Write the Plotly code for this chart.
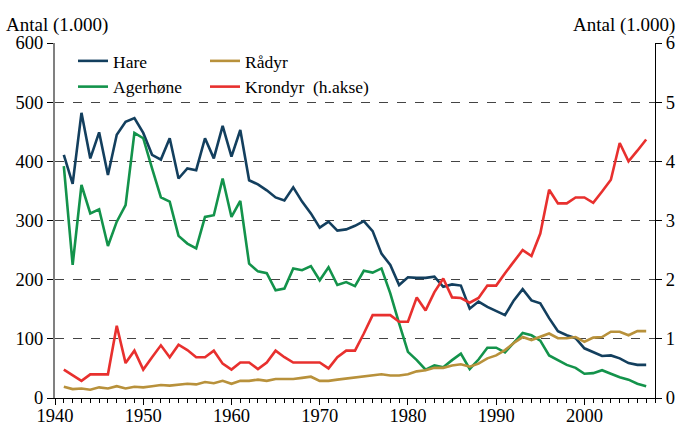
import plotly.graph_objects as go

years = list(range(1941, 2008))

hare = [411, 362, 482, 405, 449, 377, 445, 467, 473, 448,
        411, 403, 439, 371, 388, 385, 439, 405, 460, 408,
        453, 368, 361, 351, 339, 334, 356, 332, 312, 288,
        298, 283, 285, 291, 299, 282, 244, 225, 191, 204,
        203, 203, 205, 188, 192, 190, 151, 163, 154, 147,
        140, 165, 184, 165, 160, 135, 113, 106, 101, 84,
        77, 71, 72, 67, 59, 56, 56]

agerhone = [392, 225, 360, 312, 319, 257, 298, 326, 448, 439,
            388, 339, 332, 274, 261, 253, 306, 309, 371, 306,
            333, 227, 214, 211, 182, 185, 219, 216, 223, 199,
            221, 191, 196, 189, 215, 212, 219, 177, 126, 78,
            64, 48, 55, 52, 64, 75, 49, 65, 85, 85,
            77, 93, 110, 106, 97, 72, 64, 56, 51, 41,
            42, 47, 41, 35, 31, 24, 20]

radyr = [19, 15, 16, 14, 18, 16, 20, 16, 19, 18,
         20, 22, 21, 23, 24, 23, 27, 25, 29, 24,
         29, 29, 31, 29, 32, 32, 32, 34, 36, 29,
         29, 31, 33, 34, 37, 38, 40, 38, 38, 40,
         45, 47, 51, 51, 55, 57, 53, 58, 67, 72,
         81, 93, 103, 98, 103, 109, 101, 101, 103, 95,
         102, 103, 112, 112, 106, 113, 113]

krondyr = [0.48, 0.38, 0.29, 0.40, 0.40, 0.40, 1.22, 0.59, 0.80, 0.48,
           0.69, 0.89, 0.69, 0.90, 0.81, 0.69, 0.69, 0.80, 0.58, 0.48,
           0.60, 0.60, 0.49, 0.60, 0.80, 0.69, 0.60, 0.60, 0.60, 0.60,
           0.50, 0.69, 0.80, 0.80, 1.09, 1.40, 1.40, 1.40, 1.29, 1.29,
           1.70, 1.48, 1.79, 2.02, 1.70, 1.69, 1.61, 1.69, 1.90, 1.90,
           2.11, 2.30, 2.50, 2.40, 2.78, 3.52, 3.29, 3.29, 3.39, 3.39,
           3.30, 3.49, 3.69, 4.31, 4.00, 4.18, 4.37]

names = ["Hare", "Agerhøne", "Rådyr", "Krondyr\u00a0 (h.akse)"]
colors = ["#133f5e", "#13934b", "#b8913b", "#e8302e"]
axis_title = "Antal (1.000)"

FONT = "'Liberation Serif', 'Times New Roman', Times, serif"
FS_TICK = 18.5
FS_LEG = 17.5
FS_TITLE = 19

fig = go.Figure()
fig.add_trace(go.Scatter(x=years, y=hare, name=names[0], mode="lines",
                         line=dict(color=colors[0], width=2.6), legend="legend"))
fig.add_trace(go.Scatter(x=years, y=agerhone, name=names[1], mode="lines",
                         line=dict(color=colors[1], width=2.6), legend="legend"))
fig.add_trace(go.Scatter(x=years, y=radyr, name=names[2], mode="lines",
                         line=dict(color=colors[2], width=2.6), legend="legend2"))
fig.add_trace(go.Scatter(x=years, y=krondyr, name=names[3], mode="lines",
                         line=dict(color=colors[3], width=2.6), yaxis="y2",
                         legend="legend2"))

legend_common = dict(font=dict(family=FONT, size=FS_LEG, color="black"),
                     bgcolor="rgba(0,0,0,0)", orientation="v",
                     xanchor="left", yanchor="top", tracegroupgap=0,
                     itemwidth=30)

tickfont = dict(family=FONT, size=FS_TICK, color="black")

fig.update_layout(
    width=677, height=425,
    margin=dict(l=55, r=22, t=43, b=27, autoexpand=False),
    paper_bgcolor="white", plot_bgcolor="white",
    font=dict(family=FONT, size=FS_TICK, color="black"),
    showlegend=True,
    legend=dict(x=0.03, y=1.0, **legend_common),
    legend2=dict(x=0.25, y=1.0, **legend_common),
    xaxis=dict(range=[1940, 2008], dtick=10, tick0=1940,
               ticks="outside", ticklen=6, tickcolor="black",
               ticklabelstandoff=-5,
               showline=True, linecolor="black", linewidth=1.2,
               showgrid=False, zeroline=False, automargin=False,
               tickfont=tickfont,
               minor=dict(dtick=1, ticks="outside", ticklen=4,
                          tickcolor="black", showgrid=False)),
    yaxis=dict(range=[0, 600], dtick=100, ticks="outside", ticklen=6,
               tickcolor="black", showline=True, linecolor="#808080",
               linewidth=2, showgrid=True, gridcolor="#444444",
               griddash="dash", gridwidth=1, zeroline=False,
               automargin=False, tickfont=tickfont),
    yaxis2=dict(range=[0, 6], dtick=1, overlaying="y", side="right",
                ticks="outside", ticklen=6, tickcolor="black",
                showline=True, linecolor="black", linewidth=1.2,
                showgrid=False, zeroline=False, automargin=False,
                tickfont=tickfont),
    annotations=[
        dict(text=axis_title, xref="paper", yref="paper", x=-0.085, y=1.0,
             xanchor="left", yanchor="bottom", yshift=5, showarrow=False,
             font=dict(family=FONT, size=FS_TITLE, color="black")),
        dict(text=axis_title, xref="paper", yref="paper", x=1.036, y=1.0,
             xanchor="right", yanchor="bottom", yshift=5, showarrow=False,
             font=dict(family=FONT, size=FS_TITLE, color="black")),
    ],
)

fig.write_html(
    "out.html",
    config={"displayModeBar": False},
    post_script="document.body.style.margin='0';document.body.style.padding='0';"
                "document.body.style.overflow='hidden';",
)
